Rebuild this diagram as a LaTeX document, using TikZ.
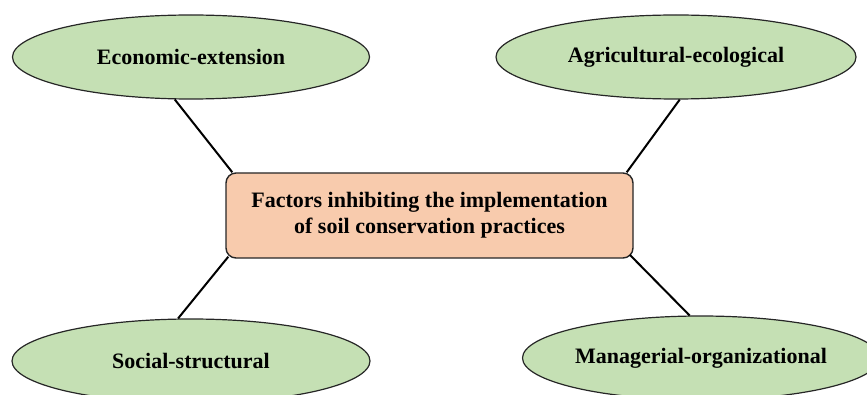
\documentclass[tikz,border=0pt]{standalone}
\usepackage{fontspec}
\setmainfont{Liberation Serif}
\usetikzlibrary{shapes.geometric}
\definecolor{leafgreen}{HTML}{C5E0B4}
\definecolor{peach}{HTML}{F8CBAD}
\tikzset{
  factor/.style={ellipse, draw=black!85, line width=1.2pt, fill=leafgreen,
    inner sep=0pt, minimum height=84, font=\bfseries\fontsize{22}{26}\selectfont},
  core/.style={rectangle, rounded corners=10, draw=black!85, line width=1.4pt,
    fill=peach, minimum width=407, minimum height=85, align=center,
    font=\bfseries\fontsize{22}{26}\selectfont},
  link/.style={line width=2pt}
}
\begin{document}
\begin{tikzpicture}[x=1pt, y=1pt]
      \useasboundingbox (0, 0) rectangle (867, 394);
      % centre
      \node[core] (box) at (429.5, 178.5)
        {Factors inhibiting the implementation\\of soil conservation practices};
      % factors
      \node[factor, minimum width=357] (ee) at (191, 337) {Economic-extension};
      \node[factor, minimum width=360] (ae) at (676, 337) {Agricultural-ecological};
      \node[factor, minimum width=358] (ss) at (191, 33) {Social-structural};
      \node[factor, minimum width=357] (mo) at (701, 36) {Managerial-organizational};
      % lines
      \draw[link] (ee.249) -- ([xshift=7]box.north west);
      \draw[link] (ae.-85) -- ([xshift=-7]box.north east);
      \draw[link] (ss.107) -- ([xshift=3, yshift=2]box.south west);
      \draw[link] (mo.105) -- ([xshift=-4, yshift=4]box.south east);
    \end{tikzpicture}
\end{document}
